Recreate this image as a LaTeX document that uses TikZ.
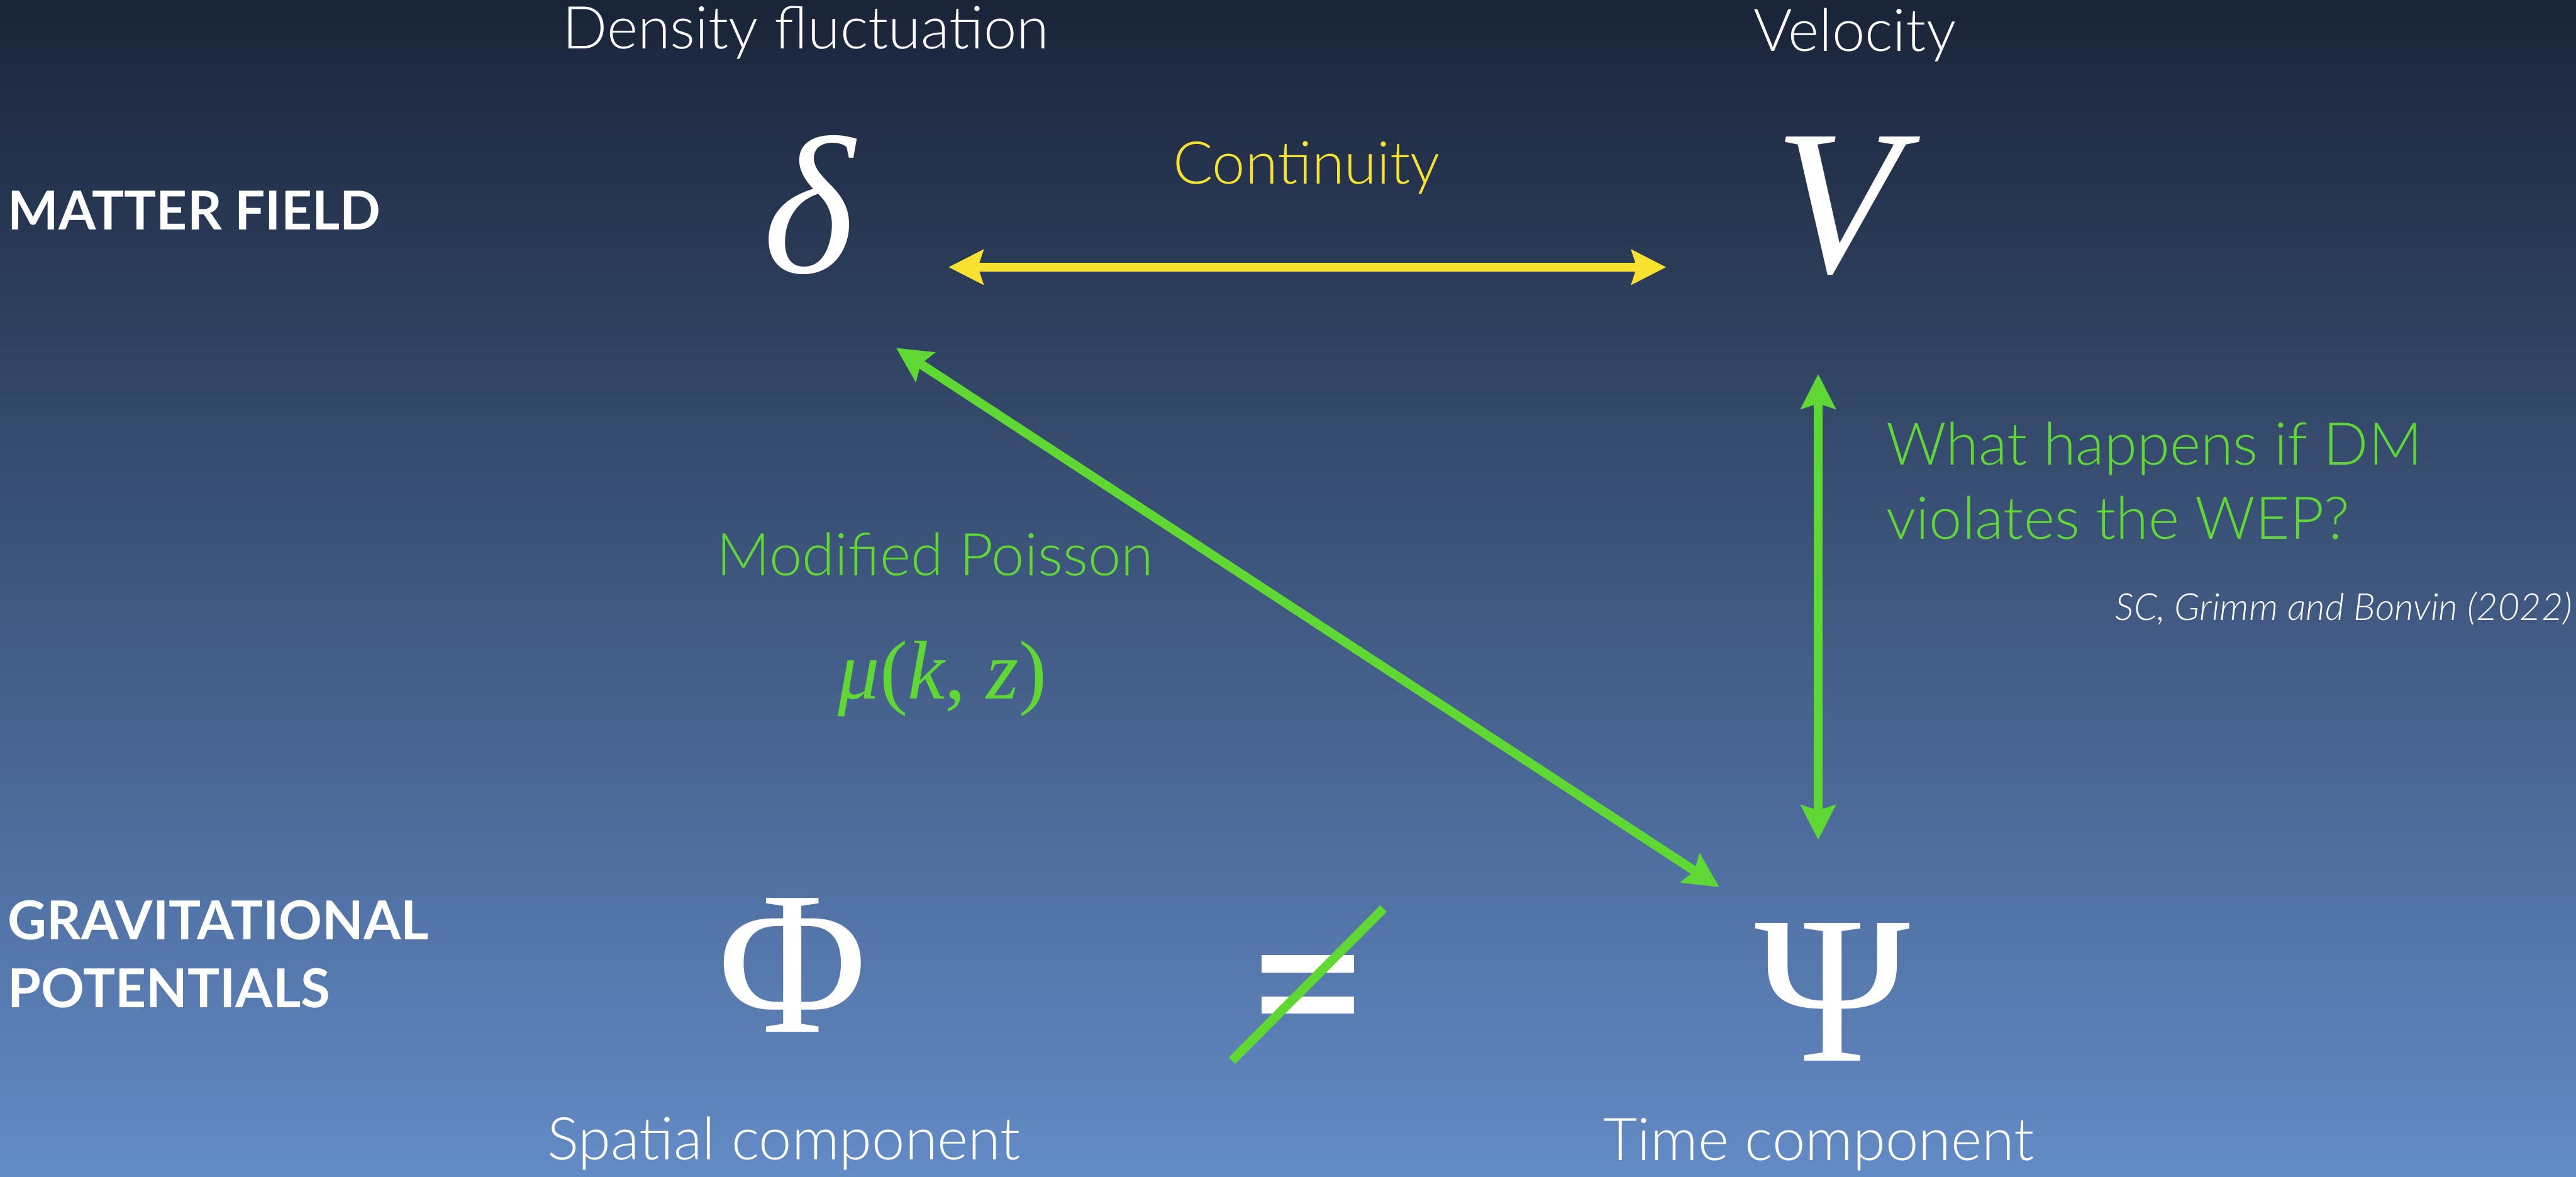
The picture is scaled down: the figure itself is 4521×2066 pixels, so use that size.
\documentclass[tikz,border=0pt]{standalone}
\usepackage{fontspec}
\setmainfont{Lato}
\newfontfamily\lightfont{Lato Light}
\newfontfamily\symfont{Liberation Serif}
\usetikzlibrary{arrows.meta}
\definecolor{arrgreen}{RGB}{95,216,52}
\definecolor{arryellow}{RGB}{249,225,47}
\definecolor{bgtop}{RGB}{26,36,56}
\definecolor{bgbot}{RGB}{99,139,198}
\tikzset{
  tipshape/.tip={Stealth[length=17.6pt,width=18pt,inset=3pt,line width=0pt]},
  lbl/.style={text=white,inner sep=0pt,anchor=base,font=\lightfont\fontsize{29.5}{34}\selectfont},
  greenlbl/.style={text=arrgreen,inner sep=0pt,anchor=base west,font=\lightfont\fontsize{29.5}{34}\selectfont},
  rowlbl/.style={text=white,inner sep=0pt,anchor=base west,font=\bfseries\fontsize{26.8}{30}\selectfont},
  sym/.style={text=white,inner sep=0pt,anchor=base,font=\symfont\fontsize{102}{110}\selectfont},
  dbl/.style={line width=4.55pt,{tipshape}-{tipshape}},
}
\begin{document}
\begin{tikzpicture}[x=0.01cm,y=-0.01cm]
\useasboundingbox (0,0) rectangle (4521,2066);
\shade[top color=bgtop,bottom color=bgbot] (0,0) rectangle (4521,2066);

% row labels
\node[rowlbl] (mf) at (13,403) {MATTER FIELD};
\node[rowlbl] (gp1) at (13,1649) {GRAVITATIONAL};
\node[rowlbl] (gp2) at (13,1769) {POTENTIALS};

% headings
\node[lbl] (hdens) at (1414,85) {Density fluctuation};
\node[lbl] (hvel) at (3255,90) {Velocity};
\node[lbl] (hspat) at (1376,2036) {Spatial component};
\node[lbl] (htime) at (3192,2037) {Time component};

% symbols
\node[sym,font=\symfont\itshape\fontsize{98}{110}\selectfont] (delta) at (1420,478) {δ};
\node[sym,font=\symfont\itshape\fontsize{103}{110}\selectfont] (V) at (3225,477) {V};
\node[sym] (Phi) at (1391,1812) {Φ};
\node[sym,font=\symfont\fontsize{105}{110}\selectfont] (Psi) at (3216,1863) {Ψ};

% equals sign with slash
\fill[white] (2214,1677) rectangle (2376,1707);
\fill[white] (2214,1749) rectangle (2376,1779);
\coordinate (sl1) at (2162,1862);
\coordinate (sl2) at (2428,1595);
\draw[arrgreen,line width=4.55pt] (sl1) -- (sl2);

% arrows
\coordinate (yl) at (1665,469);
\coordinate (yr) at (2924,469);
\draw[dbl,arryellow] (yl) -- (yr);
\node[text=arryellow,inner sep=0pt,anchor=base,font=\lightfont\fontsize{29.5}{34}\selectfont] (cont) at (2293,323) {Continuity};

\coordinate (vt) at (3191,657);
\coordinate (vb) at (3191,1474);
\draw[dbl,arrgreen] (vt) -- (vb);

\coordinate (dt) at (1573,611);
\coordinate (db) at (3017,1557);
\draw[dbl,arrgreen] (dt) -- (db);

% green labels
\node[greenlbl,anchor=base] (mp) at (1641,1011) {Modified Poisson};
\node[text=arrgreen,inner sep=0pt,anchor=base,font=\symfont\fontsize{41.6}{46}\selectfont] (mu) at (1654,1227) {\textit{μ}(\textit{k}, \textit{z})};
\node[greenlbl] (wep1) at (3310,816) {What happens if DM};
\node[greenlbl] (wep2) at (3310,947) {violates the WEP?};
\node[text=white,inner sep=0pt,anchor=base east,font=\lightfont\itshape\fontsize{18.6}{22}\selectfont] (cite) at (4515,1089) {SC, Grimm and Bonvin (2022)};
\end{tikzpicture}
\end{document}
